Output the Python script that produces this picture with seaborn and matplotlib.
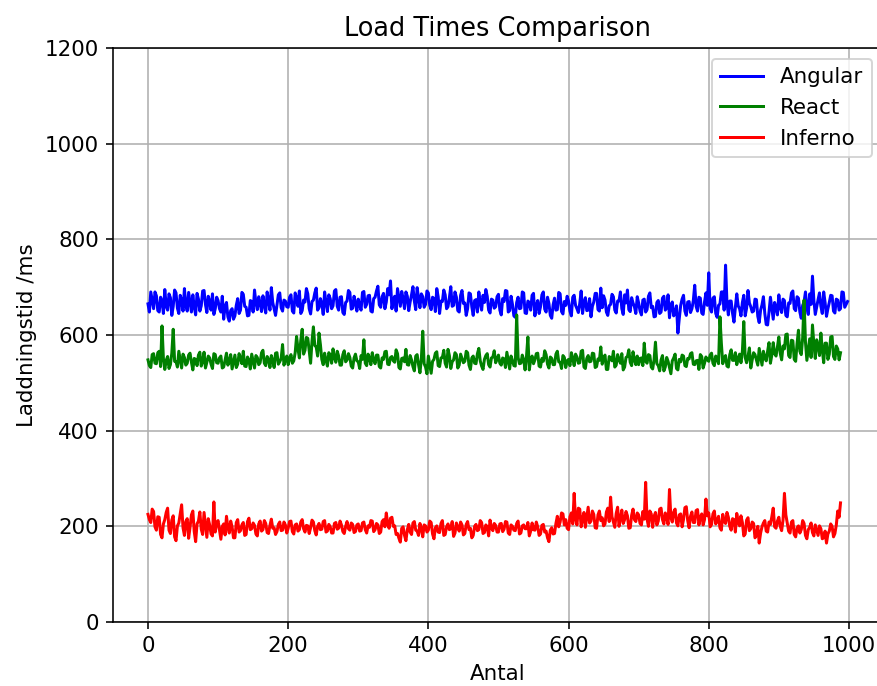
import numpy as np
import matplotlib
matplotlib.use("Agg")
import matplotlib.pyplot as plt
import seaborn as sns

title = "Load Times Comparison"
x_label = "Antal"
y_label = "Laddningstid /ms"
series_names = ["Angular", "React", "Inferno"]
series_colors = ["blue", "green", "red"]
step = 2

angular = [
    665,648,690,672,655,690,682,651,648,679,671,645,695,660,652,686,678,641,660,694,688,656,645,683,672,650,697,662,650,689,668,648,684,659,642,687,675,650,661,692,693,664,647,681,670,652,686,643,655,679,
    672,655,648,681,633,660,668,638,629,651,655,633,640,662,676,645,652,689,685,660,658,640,641,672,670,648,694,667,653,680,667,649,682,663,646,690,673,652,699,668,655,641,662,684,688,657,650,673,671,659,
    658,679,684,650,646,688,677,660,692,645,651,673,669,697,686,655,644,670,673,688,698,652,657,676,665,643,690,668,649,684,676,655,661,692,695,660,652,679,680,647,643,668,671,693,689,654,656,681,667,650,
    675,661,652,689,691,658,664,682,683,650,648,676,679,692,702,663,658,680,687,655,669,697,684,713,655,672,681,650,697,678,660,691,676,655,690,681,651,669,684,701,671,653,699,677,657,686,680,658,664,692,
    688,662,653,679,676,649,697,680,645,671,670,694,684,655,659,678,701,660,662,690,679,651,648,683,693,666,667,641,655,688,686,659,641,672,674,648,690,668,652,683,668,695,681,652,646,675,673,656,659,680,
    685,652,642,676,670,693,692,648,651,681,664,640,637,668,679,655,656,690,688,646,645,671,668,652,683,687,640,661,672,645,659,684,690,654,648,679,666,641,635,663,677,652,653,689,686,649,644,670,662,681,
    671,650,640,679,683,662,655,647,666,692,645,668,678,651,652,676,638,660,669,687,687,653,650,698,657,682,673,648,641,661,664,685,680,652,646,671,671,690,655,643,684,667,694,653,649,678,667,659,645,680,
    667,650,642,673,675,648,653,681,688,657,660,638,639,668,672,645,648,677,681,652,657,684,636,662,669,640,646,661,604,635,662,675,683,650,641,669,670,647,655,672,704,660,650,679,677,646,643,669,688,662,
    730,655,648,677,680,645,637,662,665,690,690,652,746,668,642,671,671,645,627,658,686,661,655,640,668,683,640,656,693,667,659,648,650,675,674,639,626,652,663,680,645,622,621,648,679,656,633,668,657,642,
    684,658,647,675,672,641,638,667,666,688,692,655,651,680,677,648,635,662,669,690,657,643,686,664,723,672,643,659,674,688,660,645,690,668,639,655,668,683,682,650,646,675,673,652,655,690,689,658,664,670,
]

react = [
    548,536,532,559,561,541,540,563,566,534,619,551,528,547,555,530,538,562,612,545,544,533,566,549,531,560,553,537,541,558,562,543,527,551,549,536,558,564,535,545,564,531,543,556,552,539,530,561,559,542,
    541,552,556,531,533,548,562,537,545,559,529,544,558,532,539,561,551,540,566,535,534,554,547,529,560,546,531,557,553,538,542,563,568,541,536,555,549,532,557,546,532,562,563,539,544,551,580,537,548,556,
    538,552,559,541,546,563,597,571,552,589,612,560,568,595,593,566,541,587,617,578,575,556,604,580,549,538,562,547,535,563,558,541,571,553,543,566,556,537,537,559,567,544,548,561,553,535,531,552,560,546,
    544,530,557,549,590,541,536,560,552,538,563,547,540,558,558,534,531,552,549,565,566,539,538,553,555,546,543,569,561,532,529,551,552,544,570,538,537,557,548,534,525,556,559,538,521,550,608,540,533,519,
    556,538,520,545,549,562,565,536,534,552,553,568,541,533,570,557,530,544,548,563,559,531,537,560,551,542,545,566,563,537,528,552,556,541,540,561,572,546,535,528,549,557,561,538,533,552,554,567,542,549,
    558,541,537,552,550,532,564,547,529,556,547,536,535,642,553,540,541,558,548,527,555,596,527,549,556,540,548,561,562,535,533,551,545,567,559,539,531,554,551,538,538,560,566,544,543,530,557,553,532,546,
    549,536,563,552,536,560,554,541,542,566,568,533,530,551,557,544,545,562,561,532,534,550,547,575,539,552,558,528,528,555,552,546,566,533,537,559,549,541,561,527,533,553,555,569,543,536,565,548,538,556,
    538,551,552,536,583,545,541,559,557,533,529,548,585,540,536,525,548,557,525,533,553,545,532,519,546,552,560,530,527,549,544,558,556,536,534,551,550,561,563,539,538,546,547,528,559,555,531,541,554,548,
    545,558,562,541,536,556,551,540,638,583,540,552,557,535,533,559,569,547,547,563,538,551,560,542,566,628,553,542,555,573,531,548,563,559,548,537,572,555,537,566,553,546,566,584,541,558,584,561,556,575,
    596,562,548,577,571,601,602,557,553,589,588,549,545,582,610,566,559,594,673,585,547,569,592,553,621,580,551,590,578,557,604,569,542,583,583,549,560,596,597,555,549,577,571,548,563,
]

inferno = [
    225,214,208,236,231,199,192,220,219,183,176,205,214,229,238,192,185,213,222,178,170,201,207,226,245,197,181,210,216,175,198,224,232,189,168,205,211,230,194,183,229,203,177,216,203,184,180,251,188,207,
    212,192,173,200,205,182,221,197,186,211,199,176,176,208,214,188,191,203,208,181,183,210,217,193,195,207,202,184,180,205,211,190,193,212,206,187,185,202,215,196,197,183,189,204,209,191,192,209,203,186,
    196,210,211,189,184,203,205,190,193,209,214,195,188,202,201,185,197,213,209,191,182,200,206,193,194,210,212,188,190,204,199,186,186,206,208,194,196,211,203,189,185,200,210,195,192,207,204,187,189,203,
    205,190,191,207,209,193,186,201,198,212,211,189,193,206,203,185,188,210,214,199,228,205,196,217,219,200,201,183,185,175,167,196,199,181,170,193,204,188,183,207,210,192,190,181,206,196,178,203,201,188,
    192,211,208,184,174,197,201,188,187,206,212,181,183,199,205,193,195,210,179,186,207,198,190,209,203,182,185,204,210,193,196,176,181,200,204,191,193,212,208,185,187,203,199,180,213,197,191,206,202,188,
    188,205,206,189,194,210,209,186,183,203,200,192,191,206,211,184,186,201,203,195,195,208,180,190,207,193,192,209,199,181,184,202,204,188,190,176,168,192,197,184,185,206,221,199,209,228,226,203,214,196,
    193,220,228,205,269,215,203,238,236,199,215,229,198,219,240,207,211,232,225,197,196,224,232,212,218,201,205,230,238,210,261,220,209,198,227,240,200,216,234,206,214,231,222,196,197,223,236,214,210,228,
    224,206,203,231,215,292,215,200,232,226,198,221,229,203,211,236,238,214,205,228,220,204,277,218,209,230,236,207,201,224,226,199,214,239,241,212,197,221,230,208,208,233,235,203,219,226,203,214,257,222,
    228,199,204,226,232,205,211,221,197,192,225,210,206,229,219,200,192,216,214,188,227,209,201,222,208,180,184,213,218,191,195,209,206,176,181,200,165,186,199,207,212,190,188,209,204,220,238,199,196,211,
    219,200,191,213,269,224,207,190,186,209,212,183,178,197,201,186,193,212,206,181,174,193,198,207,187,180,203,192,181,201,195,174,176,190,165,184,190,205,200,178,185,203,232,219,249,
]

y_ticks = [0, 200, 400, 600, 800, 1000, 1200]

DPI = 144
plt.rcParams["font.size"] = 10.7
fig = plt.figure(figsize=(877 / DPI, 686 / DPI), dpi=DPI)
ax = fig.add_axes([113 / 877, 1 - 622 / 686, 769.5 / 877, 574 / 686])

for name, vals, col in zip(series_names, [angular, react, inferno], series_colors):
    xs = np.arange(len(vals)) * step
    sns.lineplot(x=xs, y=vals, color=col, label=name, ax=ax, linewidth=1.5)

ax.set_ylim(0, 1200)
ax.set_yticks(y_ticks)
ax.set_title(title)
ax.set_xlabel(x_label)
ax.set_ylabel(y_label)
ax.grid(True)
ax.legend(loc="upper right")

fig.savefig("out.png", dpi=DPI)
